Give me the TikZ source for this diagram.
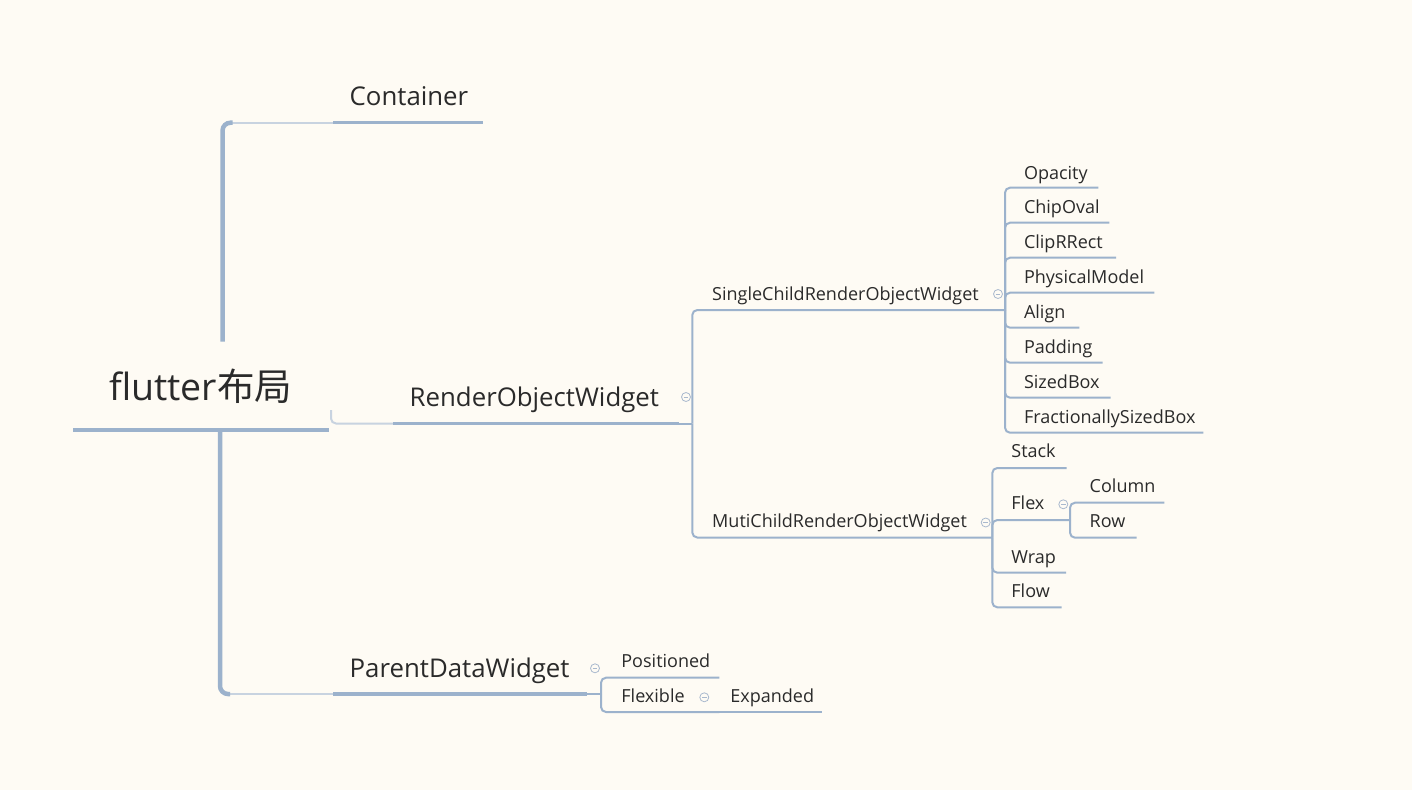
\documentclass[tikz,border=0pt]{standalone}
\usepackage{fontspec}
\setmainfont{Open Sans}
\newfontfamily\cjk{Noto Sans CJK SC}
\definecolor{bg}{HTML}{FEFBF4}
\definecolor{lc}{HTML}{9CB2CC}
\definecolor{pale}{HTML}{C8D3E0}
\definecolor{foldc}{HTML}{A9B9CE}
\definecolor{txt}{HTML}{2A2A2A}
\begin{document}
\begin{tikzpicture}[x=1pt,y=-1pt,
  every node/.style={inner sep=0pt, text=txt},
  rootlbl/.style={font=\fontsize{37.5}{42}\selectfont, anchor=base west},
  lvlone/.style={font=\fontsize{25.8}{30}\selectfont, anchor=base west},
  lvltwo/.style={font=\fontsize{18}{21}\selectfont, anchor=base west},
  thickline/.style={draw=lc, line width=4.5pt},
  midline/.style={draw=lc, line width=3.5pt},
  thinline/.style={draw=lc, line width=2pt, rounded corners=5pt},
  paleline/.style={draw=pale, line width=2pt},
  fold/.style={circle, draw=foldc, line width=0.8pt, minimum size=9pt, inner sep=0pt,
    path picture={\draw[foldc, line width=0.8pt]
      ([xshift=-2.3pt]path picture bounding box.center) -- ([xshift=2.3pt]path picture bounding box.center);}},
]
\useasboundingbox[fill=bg] (0,0) rectangle (1412,790);

% ---------- coordinates ----------
\coordinate (rootL) at (73,430);
\coordinate (rootR) at (329,430);
\coordinate (upS) at (222.5,341.5);
\coordinate (contL) at (333,122.7);
\coordinate (contR) at (483,122.7);
\coordinate (roS) at (331,410);
\coordinate (roL) at (393,423.5);
\coordinate (roR) at (679,423.5);
\coordinate (roJ) at (692.3,423.5);
\coordinate (singleR) at (1005,310);
\coordinate (mutiR) at (992.3,537.5);
\coordinate (rootD) at (220,430);
\coordinate (pdL) at (333,694);
\coordinate (pdR) at (587,694);
\coordinate (pdJ) at (601,694);
\coordinate (posR) at (719.3,677.7);
\coordinate (flexibleR) at (719.3,712);
\coordinate (expR) at (821.7,712);
% single children
\coordinate (opR) at (1098.3,187.7);
\coordinate (chR) at (1109.3,222.7);
\coordinate (clR) at (1116,257.7);
\coordinate (phR) at (1154.3,292.7);
\coordinate (alR) at (1079.3,327.7);
\coordinate (paR) at (1102.7,362.7);
\coordinate (siR) at (1110.7,397.7);
\coordinate (frR) at (1203.3,432.7);
% muti children
\coordinate (stR) at (1066.7,468);
\coordinate (flR) at (1070,520);
\coordinate (wrR) at (1066,572.7);
\coordinate (fwR) at (1061.7,607.3);
\coordinate (coR) at (1164.3,502.7);
\coordinate (rwR) at (1136.7,537.7);

% ---------- text ----------
\node[rootlbl] (root) at (109,400) {flutter{\cjk 布局}};
\node[lvlone] (container) at (349.5,105) {Container};
\node[lvlone] (rowidget) at (409.5,406) {RenderObjectWidget};
\node[lvlone] (pdwidget) at (349.5,677) {ParentDataWidget};
\node[lvltwo] (single) at (712,300) {SingleChildRenderObjectWidget};
\node[lvltwo] (muti) at (712,527.7) {MutiChildRenderObjectWidget};
\node[lvltwo] (opacity) at (1023.8,179) {Opacity};
\node[lvltwo] (chipoval) at (1023.8,213.7) {ChipOval};
\node[lvltwo] (cliprrect) at (1023.8,248.7) {ClipRRect};
\node[lvltwo] (physical) at (1023.8,283.7) {PhysicalModel};
\node[lvltwo] (align) at (1023.8,318.7) {Align};
\node[lvltwo] (padding) at (1023.8,353.7) {Padding};
\node[lvltwo] (sizedbox) at (1023.8,388.7) {SizedBox};
\node[lvltwo] (fract) at (1023.8,423.7) {FractionallySizedBox};
\node[lvltwo] (stack) at (1011.2,457.3) {Stack};
\node[lvltwo] (flex) at (1011.2,509.5) {Flex};
\node[lvltwo] (wrap) at (1011.2,563.3) {Wrap};
\node[lvltwo] (flow) at (1011.2,597.3) {Flow};
\node[lvltwo] (column) at (1089.5,492.7) {Column};
\node[lvltwo] (rowlbl) at (1089.5,527.3) {Row};
\node[lvltwo] (positioned) at (621.2,667.3) {Positioned};
\node[lvltwo] (flexible) at (621.2,702.7) {Flexible};
\node[lvltwo] (expanded) at (730.2,702.7) {Expanded};

% ---------- fold markers ----------
\node[fold] (f1) at (686,397) {};
\node[fold] (f2) at (998,294) {};
\node[fold] (f3) at (985.7,522.5) {};
\node[fold] (f4) at (1063.3,504.3) {};
\node[fold] (f5) at (595,668.3) {};
\node[fold] (f6) at (704.3,697.3) {};

% ---------- root and main branches ----------
\draw[thickline] (rootL) -- (rootR);
\draw[paleline] ([xshift=8pt]upS|-contL) -- (contL);
\draw[thickline, rounded corners=8pt] (upS) |- ([xshift=10pt]upS|-contL);
\draw[midline] (contL) -- (contR);

\draw[paleline, rounded corners=5pt] (roS) |- (roL);
\draw[midline] (roL) -- (roR);

\draw[paleline] ([xshift=8pt]rootD|-pdL) -- (pdL);
\draw[thickline, rounded corners=8pt] (rootD) |- ([xshift=10pt]rootD|-pdL);
\draw[midline] (pdL) -- (pdR);

% ---------- RenderObjectWidget subtree ----------
\draw[thinline] (roR) -- (roJ);
\draw[thinline] (roJ) |- (singleR);
\draw[thinline] (roJ) |- (mutiR);
\foreach \c in {opR,chR,clR,phR,alR,paR,siR,frR}
  \draw[thinline] (singleR) |- (\c);
\foreach \c in {stR,flR,wrR,fwR}
  \draw[thinline] (mutiR) |- (\c);
\foreach \c in {coR,rwR}
  \draw[thinline] (flR) |- (\c);

% ---------- ParentDataWidget subtree ----------
\draw[thinline] (pdR) -- (pdJ);
\draw[thinline] (pdJ) |- (posR);
\draw[thinline] (pdJ) |- (flexibleR);
\draw[thinline] (flexibleR) -- (expR);
\end{tikzpicture}
\end{document}
